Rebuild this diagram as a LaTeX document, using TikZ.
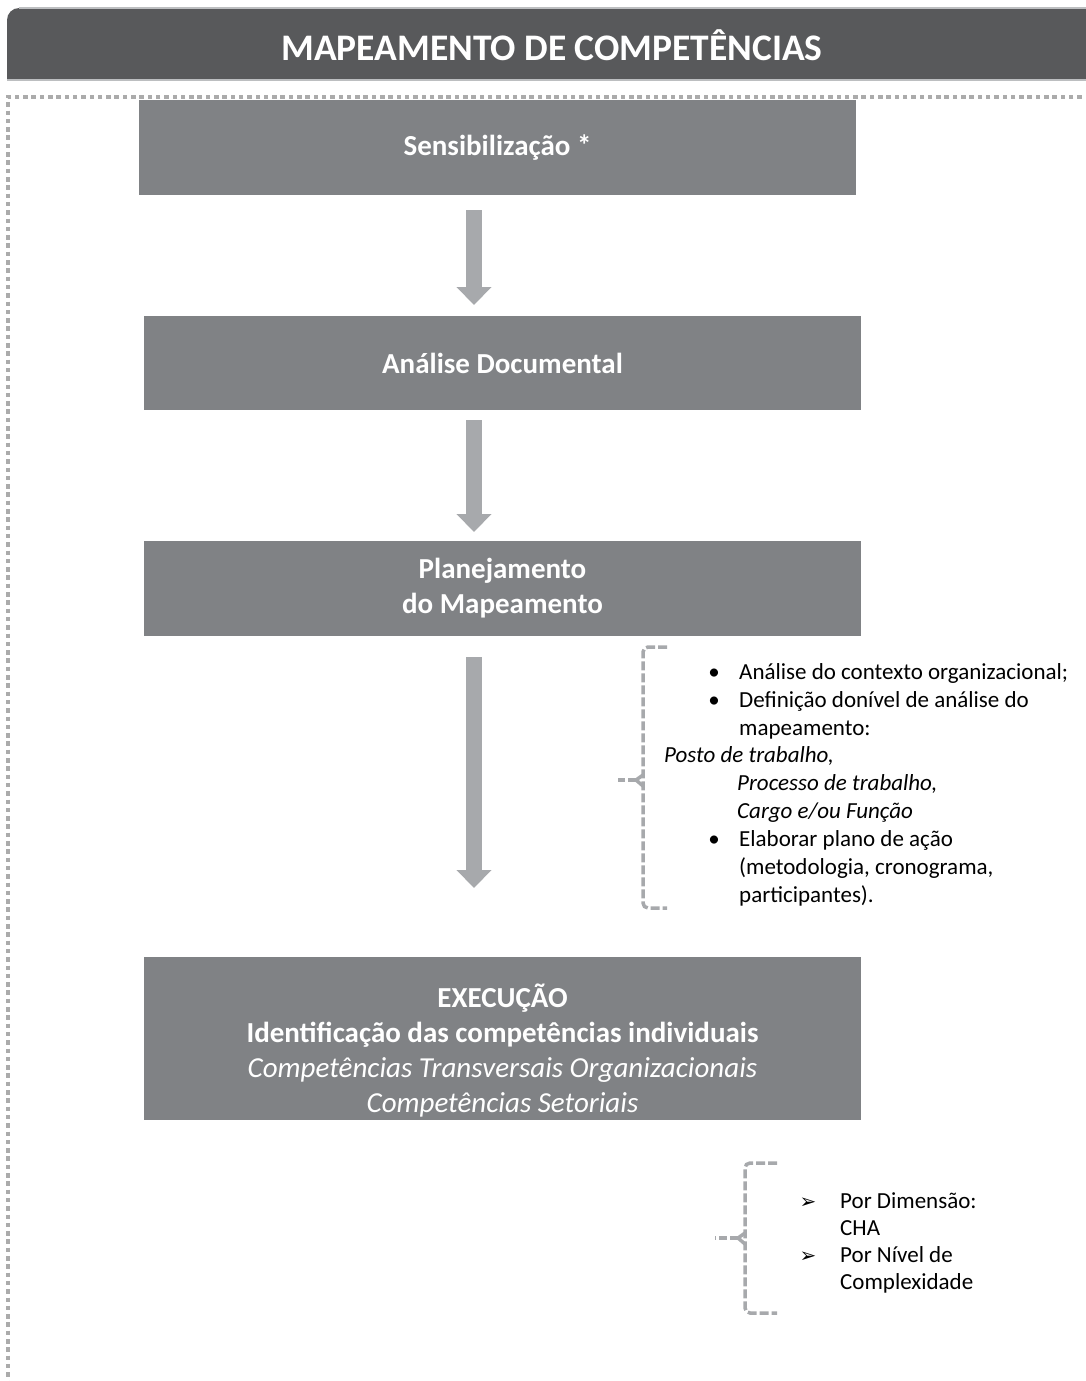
\documentclass[tikz,border=0pt]{standalone}
\usepackage{fontspec}
\setmainfont{Carlito}
\newfontfamily\symfont{DejaVu Sans}
\usetikzlibrary{arrows.meta}

\definecolor{titlegray}{HTML}{58595B}
\definecolor{boxgray}{HTML}{808285}
\definecolor{arrowgray}{HTML}{A7A9AC}
\definecolor{dotgray}{HTML}{ABABAB}
\definecolor{edgegray}{HTML}{BCBEC0}

\begin{document}
\begin{tikzpicture}[x=1pt,y=-1pt,
  stepbox/.style={fill=boxgray, text=white, inner sep=0pt, align=center,
    minimum width=717pt, font=\fontsize{29}{35}\selectfont\bfseries},
  flowarrow/.style={draw=arrowgray, line width=16pt,
    -{Triangle[width=34pt,length=18pt,fill=arrowgray]}},
  bracket/.style={draw=arrowgray, line width=3.5pt, dash pattern=on 9pt off 3pt},
  note/.style={font=\fontsize{23}{28}\selectfont, anchor=base west, inner sep=0pt},
  slanted note/.style={note, font=\fontsize{23}{28}\selectfont\itshape},
  dot/.style={font=\fontsize{23}{28}\selectfont, anchor=base, inner sep=0pt},
  pointer/.style={font=\symfont\fontsize{20}{24}\selectfont, anchor=base, inner sep=0pt},
]
\useasboundingbox (0,0) rectangle (1085,1381);

% title bar (rounded top-left corner only)
\fill[titlegray] (1090,80) -- (7,80) -- (7,20)
  arc[start angle=180, end angle=270, radius=12] -- (1090,8) -- cycle;
\draw[edgegray, line width=1.5pt] (19,8) -- (1090,8);
\draw[edgegray, line width=1.5pt] (7,80) -- (1090,80);
\node[text=white, font=\fontsize{37.5}{42}\selectfont\bfseries] (title) at (552,45)
  {MAPEAMENTO DE COMPETÊNCIAS};

% dotted frame
\draw[dotgray, line width=4pt, dash pattern=on 4.5pt off 3.8pt] (1090,97) -- (8,97) -- (8,1390);

% process steps
\node[stepbox, minimum height=95pt] (s1) at (497.5,147.5) {Sensibilização *};
\node[stepbox, minimum height=94pt] (s2) at (502.5,363) {Análise Documental};
\node[stepbox, minimum height=95pt] (s3) at (502.5,588.5) {Planejamento\\do Mapeamento};
\node[stepbox, minimum height=163pt] (s4) at (502.5,1038.5) {};
\node[text=white, align=center, inner sep=0pt, font=\fontsize{29}{35}\selectfont] (s4text) at (502.5,1051)
  {\textbf{EXECUÇÃO}\\\textbf{Identificação das competências individuais}\\
   \textit{Competências Transversais Organizacionais}\\\textit{Competências Setoriais}};

% arrows between steps
\coordinate (a1top) at (474,210);
\coordinate (a1tip) at (474,305);
\coordinate (a2top) at (474,420);
\coordinate (a2tip) at (474,532);
\coordinate (a3top) at (474,657);
\coordinate (a3tip) at (474,888);
\draw[flowarrow] (a1top) -- (a1tip);
\draw[flowarrow] (a2top) -- (a2tip);
\draw[flowarrow] (a3top) -- (a3tip);

% planning bracket
\draw[bracket, rounded corners=5pt] (667,647) -- (643,647) -- (643,908) -- (667,908);
\draw[draw=arrowgray, line width=3.5pt] (643,775) -- (636,780) -- (643,786);
\draw[draw=arrowgray, line width=3.5pt, dash pattern=on 8pt off 3pt] (636,780) -- (618,780);

\node[dot] (b1) at (714,679) {•};
\node[note] (t1) at (739,679) {Análise do contexto organizacional;};
\node[dot] (b2) at (714,707) {•};
\node[note] (t2) at (739,707) {Definição donível de análise do};
\node[note] (t3) at (739,735) {mapeamento:};
\node[slanted note] (t4) at (664,762) {Posto de trabalho,};
\node[slanted note] (t5) at (737,790) {Processo de trabalho,};
\node[slanted note] (t6) at (737,818) {Cargo e/ou Função};
\node[dot] (b3) at (714,846) {•};
\node[note] (t7) at (739,846) {Elaborar plano de ação};
\node[note] (t8) at (739,874) {(metodologia, cronograma,};
\node[note] (t9) at (739,902) {participantes).};

% execution bracket
\draw[bracket, rounded corners=5pt] (777,1163) -- (745,1163) -- (745,1313) -- (777,1313);
\draw[draw=arrowgray, line width=3.5pt] (745,1233) -- (738,1238) -- (745,1244);
\draw[draw=arrowgray, line width=3.5pt, dash pattern=on 8pt off 3pt] (738,1238) -- (715,1238);

\node[pointer] (p1) at (808,1208) {➢};
\node[note] (u1) at (840,1208) {Por Dimensão:};
\node[note] (u2) at (840,1235) {CHA};
\node[pointer] (p2) at (808,1262) {➢};
\node[note] (u3) at (840,1262) {Por Nível de};
\node[note] (u4) at (840,1289) {Complexidade};
\end{tikzpicture}
\end{document}
